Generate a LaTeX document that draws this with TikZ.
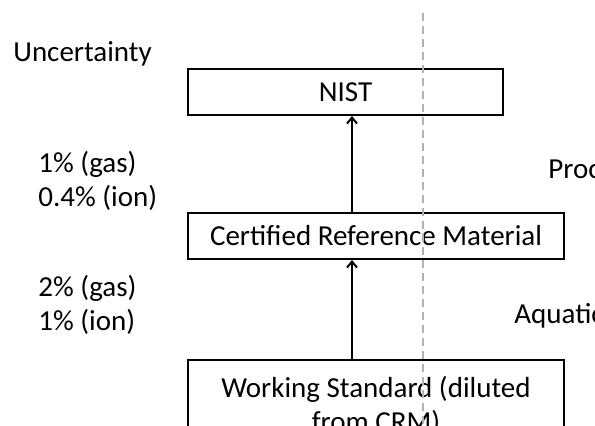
\documentclass[tikz,border=0pt]{standalone}
\usepackage{fontspec}
\setmainfont{Carlito}
\usetikzlibrary{arrows.meta}
\begin{document}
\begin{tikzpicture}[x=0.5pt,y=-0.5pt,font=\fontsize{14.5}{17}\selectfont,
  box/.style={draw,line width=1pt,inner sep=0pt},
  lbl/.style={anchor=west,align=left,inner sep=0pt},
  arr/.style={-{Straight Barb[length=3pt,width=5pt]},line width=1pt}]
\pgfmathsetmacro{\dx}{-12}
\clip(0,0)rectangle(595,425);
\fill[white](0,0)rectangle(595,425);
\node[lbl](unc)at(13,54){Uncertainty};
\node[box,minimum width=157.5pt,minimum height=23pt](nist)at(345.5,92){NIST};
\node[box,minimum width=188pt,minimum height=23pt](crm)at(376,236){Certified Reference Material};
\node[box,minimum width=188pt,minimum height=46pt,align=center,anchor=north](ws)at(376,359){Working Standard (diluted\\from CRM)};
\node[lbl](ua)at(38,181){1\% (gas)\\0.4\% (ion)};
\node[lbl](ub)at(38,305){2\% (gas)\\1\% (ion)};
\node[lbl](proc)at(548,169){Process};
\node[lbl](aq)at(514,316){Aquatic};
\coordinate(divtop)at(423,13);
\coordinate(divbot)at(423,425);
\draw[arr]([xshift=\dx pt]ws.north)--([xshift=\dx pt]crm.south);
\draw[arr]([xshift=\dx pt]crm.north)--([xshift=\dx pt]crm.north|-nist.south);
\draw[gray!60,line width=0.6pt,dash pattern=on 4pt off 2.5pt](divtop)--(divbot);
\end{tikzpicture}
\end{document}
